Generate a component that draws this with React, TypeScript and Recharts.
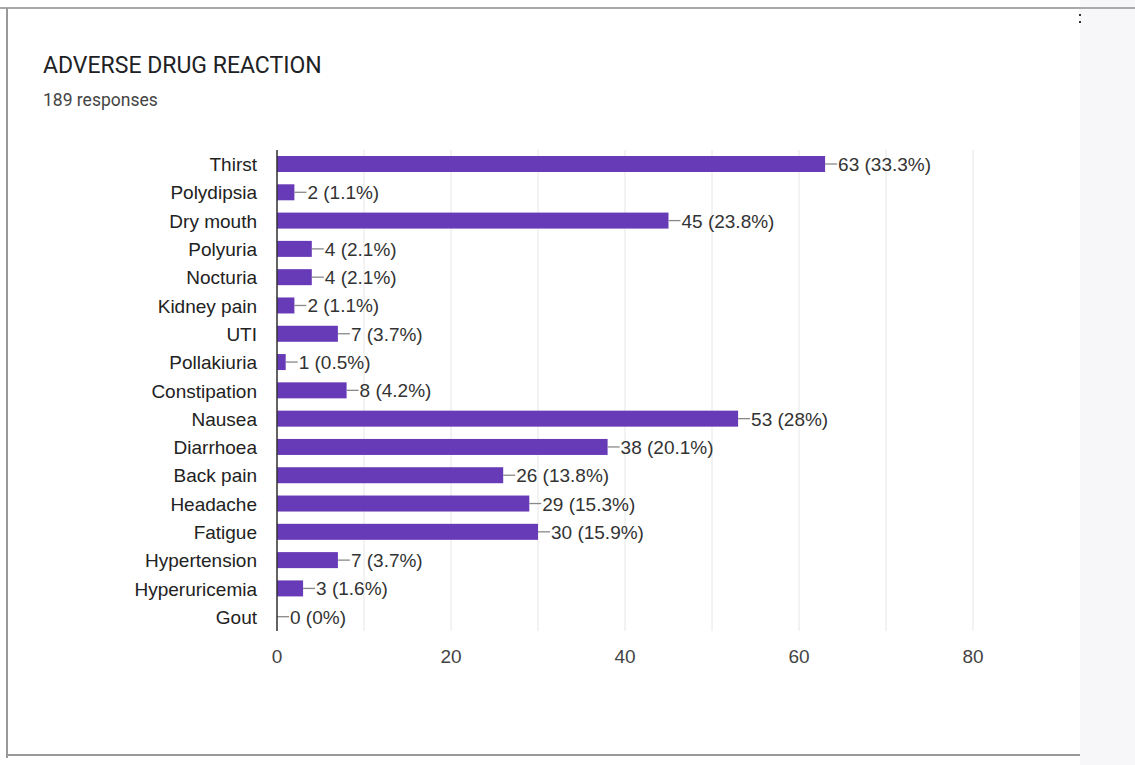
import React from 'react';
import { BarChart, Bar, XAxis, YAxis, CartesianGrid } from 'recharts';

// (189 responses total)
const CATEGORIES = [
  'Thirst', 'Polydipsia', 'Dry mouth', 'Polyuria', 'Nocturia', 'Kidney pain', 'UTI',
  'Pollakiuria', 'Constipation', 'Nausea', 'Diarrhoea', 'Back pain', 'Headache',
  'Fatigue', 'Hypertension', 'Hyperuricemia', 'Gout',
];
const COUNTS = [63, 2, 45, 4, 4, 2, 7, 1, 8, 53, 38, 26, 29, 30, 7, 3, 0];
const PERCENTS = ['33.3', '1.1', '23.8', '2.1', '2.1', '1.1', '3.7', '0.5', '4.2', '28', '20.1', '13.8', '15.3', '15.9', '3.7', '1.6', '0'];
const X_TICKS = [0, 10, 20, 30, 40, 50, 60, 70, 80];

const data = CATEGORIES.map((name, i) => ({ name, value: COUNTS[i], pct: PERCENTS[i] }));

const FONT = 'Roboto, "Noto Sans", Arial, sans-serif';
const CHART_FONT = '"Liberation Sans", Arial, sans-serif';

const XTick = (props: any) => {
  const { x, y, payload } = props;
  if (payload.value % 20 !== 0) return null;
  return (
    <text x={x} y={y + 24} textAnchor="middle" fill="#444" fontSize={19} fontFamily={CHART_FONT}>
      {payload.value}
    </text>
  );
};

const YTick = (props: any) => {
  const { x, y, payload } = props;
  return (
    <text x={x} y={y} dy={7} textAnchor="end" fill="#222" fontSize={19} fontFamily={CHART_FONT}>
      {payload.value}
    </text>
  );
};

// bar + connector line + "n (p%)" label, drawn together so the zero bar keeps its label
const BarWithLabel = (props: any) => {
  const { x, y, width, height, index, fill } = props;
  const w = Math.max(0, width || 0);
  const ex = x + w;
  const cy = y + height / 2;
  return (
    <g>
      {w > 0 && <rect x={x} y={y} width={w} height={height} fill={fill} />}
      <line x1={ex} y1={cy} x2={ex + 12} y2={cy} stroke="#888" strokeWidth={1.3} />
      <text x={ex + 13} y={cy} dy={7} fill="#333" fontSize={19} fontFamily={CHART_FONT}>
        {`${COUNTS[index]} (${PERCENTS[index]}%)`}
      </text>
    </g>
  );
};

export default function App() {
  return (
    <div style={{ position: 'absolute', left: 0, top: 0, width: 1135, height: 765, background: '#fff', overflow: 'hidden', fontFamily: FONT }}>
      {/* card frame */}
      <div style={{ position: 'absolute', left: 1080, top: 0, width: 55, height: 765, background: '#f7f7fa' }} />
      <div style={{ position: 'absolute', left: 0, top: 7, width: 1135, height: 2, background: '#aaa' }} />
      <div style={{ position: 'absolute', left: 6, top: 8, width: 1.5, height: 750, background: '#999' }} />
      <div style={{ position: 'absolute', left: 8, top: 754, width: 1072, height: 2, background: '#999' }} />
      <div style={{ position: 'absolute', left: 1079, top: 14, width: 2, height: 2, background: '#333' }} />
      <div style={{ position: 'absolute', left: 1079, top: 21, width: 2, height: 2, background: '#333' }} />

      <div style={{ position: 'absolute', left: 43, top: 52, fontSize: 23, color: '#202124' }}>ADVERSE DRUG REACTION</div>
      <div style={{ position: 'absolute', left: 43, top: 90, fontSize: 17.5, color: '#444' }}>189 responses</div>

      <div style={{ position: 'absolute', left: 0, top: 0 }}>
        <BarChart
          width={1135}
          height={700}
          data={data}
          layout="vertical"
          margin={{ top: 150, right: 162, bottom: 39, left: 0 }}
          barSize={16}
        >
          <CartesianGrid horizontal={false} stroke="#e6e6e6" />
          <XAxis
            type="number"
            domain={[0, 80]}
            ticks={X_TICKS}
            axisLine={false}
            tickLine={false}
            tick={<XTick />}
            height={30}
          />
          <YAxis
            type="category"
            dataKey="name"
            width={277}
            axisLine={{ stroke: '#333', strokeWidth: 1.5 }}
            tickLine={false}
            tick={<YTick />}
            tickMargin={14}
            interval={0}
          />
          <Bar dataKey="value" fill="#673ab7" isAnimationActive={false} shape={<BarWithLabel />} />
        </BarChart>
      </div>
    </div>
  );
}
